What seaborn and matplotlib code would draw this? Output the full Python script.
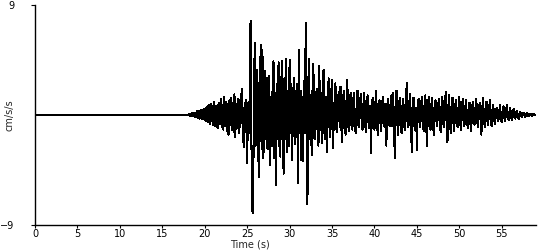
import numpy as np
import pandas as pd
import matplotlib
matplotlib.use("Agg")
import matplotlib.pyplot as plt
import seaborn as sns

# ---- data (acceleration, cm/s/s, every 0.1 s) ----
quiet_part = [0.0] * 180  # 0.0 .. 17.9 s : flat trace

active_part = [
    0.0, 0.05, -0.05, 0.1, -0.1, 0.15, -0.1, 0.2, -0.15, 0.2,            # 18
    -0.2, 0.3, -0.25, 0.35, -0.3, 0.4, -0.3, 0.45, -0.35, 0.5,           # 19
    -0.4, 0.6, -0.5, 0.7, -0.6, 0.8, -0.7, 0.9, -0.5, 0.7,               # 20
    -0.8, 1.1, -0.9, 0.7, -1.0, 0.8, -1.1, 1.0, -0.7, 1.3,               # 21
    -1.0, 0.8, -1.2, 1.5, -0.9, 1.1, -1.3, 0.9, -1.6, 1.2,               # 22
    -0.8, 1.4, -1.2, 1.0, -1.4, 1.7, -1.8, 0.9, -1.1, 1.3,               # 23
    -1.5, 1.2, -1.0, 1.6, 2.1, -1.3, -2.6, 1.0, -1.4, 1.2,               # 24
    -3.9, 1.0, -1.5, 1.8, 7.7, -2.0, -7.8, -8.0, 2.0, 5.9,               # 25
    -2.5, 1.5, 3.7, -3.0, -5.1, 2.0, 5.7, -2.8, 5.3, -3.5,               # 26
    -1.5, 3.6, -2.0, 3.0, -2.8, 2.2, 3.2, -4.1, 1.5, -2.5,               # 27
    2.5, 4.4, -3.5, 1.8, -5.7, 2.5, -2.0, 4.3, -2.5, -3.4,               # 28
    2.0, 4.4, -2.2, -4.8, 3.0, -2.0, 4.6, -3.0, 1.5, -2.5,               # 29
    4.5, -1.5, 2.5, -3.7, 1.0, 3.0, -2.4, 2.0, -1.8, 2.5,                # 30
    -5.6, 5.3, -1.5, 2.0, -3.7, 1.5, -3.8, 2.8, -1.5, 7.5,               # 31
    -2.0, -7.3, 2.5, 4.6, -2.0, 1.5, -3.3, 2.0, 4.2, -1.8,               # 32
    -2.0, 1.5, 2.1, -1.5, -2.5, 4.0, -1.2, 1.8, -2.3, 1.0,               # 33
    3.7, -1.4, -2.0, 1.5, -3.0, 1.2, 3.0, -1.0, -1.8, 1.6,               # 34
    2.9, -2.7, 1.0, -1.2, 2.6, -0.8, -1.4, 1.2, 1.9, -1.0,               # 35
    2.3, -1.0, -2.2, 1.2, 2.0, -0.9, -1.6, 1.0, 2.9, -0.8,               # 36
    -1.3, 1.0, 1.8, -0.9, -1.2, 1.2, 1.8, -1.0, -1.5, 0.9,               # 37
    2.0, -0.8, -1.0, 1.1, 1.7, -0.9, -1.2, 0.8, 1.8, -0.7,               # 38
    -1.4, 0.9, 1.6, -0.6, -1.1, 0.7, -3.1, 1.0, 1.4, -0.8,               # 39
    -1.2, 0.8, 2.0, -0.7, -1.6, 0.9, 1.2, -0.6, -1.3, 0.8,               # 40
    1.5, -0.7, -1.0, 0.9, -2.5, 0.6, 1.3, -0.8, -0.9, 1.0,               # 41
    1.6, -0.9, 1.8, -1.0, -3.5, 0.8, 2.0, -0.7, -1.6, 0.9,               # 42
    1.4, -0.8, -1.5, 0.7, 1.3, -0.9, -1.2, 0.8, 2.6, -0.7,               # 43
    -1.0, 0.9, 1.7, -0.8, -3.0, 0.7, 1.4, -0.9, -1.2, 0.6,               # 44
    -2.9, 0.8, 1.3, -0.6, -1.0, 0.9, 1.5, -0.7, -1.3, 0.8,               # 45
    1.6, -0.8, -2.5, 0.7, 1.5, -0.6, -1.2, 0.8, 1.4, -0.7,               # 46
    -1.6, 0.6, 1.2, -0.5, -0.9, 0.7, 1.3, -0.6, -1.4, 0.7,               # 47
    1.5, -0.6, -1.0, 0.8, 1.9, -0.7, -2.2, 0.6, 1.6, -0.7,               # 48
    -1.5, 0.7, 1.4, -0.6, -1.3, 0.6, 1.2, -0.5, -1.0, 0.6,               # 49
    1.5, -0.6, -1.2, 0.5, 1.3, -0.5, -0.9, 0.6, 1.2, -0.5,               # 50
    -1.1, 0.5, 1.0, -0.6, -1.3, 0.5, 1.1, -0.4, -0.8, 0.5,               # 51
    1.3, -0.5, -1.0, 0.4, 1.0, -0.4, -1.6, 0.5, 1.4, -0.4,               # 52
    -1.0, 0.4, 1.1, -0.4, -0.8, 0.4, 1.2, -0.3, -0.9, 0.4,               # 53
    0.8, -0.3, -0.7, 0.3, 0.6, -0.3, -0.5, 0.3, 0.8, -0.3,               # 54
    -0.6, 0.3, 0.7, -0.2, -0.5, 0.3, 0.8, -0.2, -0.4, 0.2,               # 55
    0.6, -0.2, -0.4, 0.2, 0.5, -0.2, -0.3, 0.2, 0.3, -0.1,               # 56
    -0.3, 0.1, 0.25, -0.1, -0.2, 0.1, 0.2, -0.1, -0.15, 0.1,             # 57
    0.15, -0.05, -0.1, 0.05, 0.1, -0.05, -0.05, 0.05, 0.05, 0.0,         # 58
    0.0,                                                                 # 59
]

accel = quiet_part + active_part
time_s = np.round(np.arange(len(accel)) * 0.1, 1)

x_ticks = [0, 5, 10, 15, 20, 25, 30, 35, 40, 45, 50, 55]
y_ticks = [-9, 9]
x_label = "Time (s)"
y_label = "cm/s/s"

df = pd.DataFrame({"t": time_s, "a": accel})

sns.set_theme(style="ticks")
plt.rcParams["font.family"] = ["DejaVu Sans"]

fig = plt.figure(figsize=(5.5, 2.5), dpi=100)
ax = fig.add_axes([35 / 550, 1 - 225 / 250, 500.7 / 550, 220 / 250])

sns.lineplot(data=df, x="t", y="a", ax=ax, color="black",
             linewidth=0.75, estimator=None, sort=False, antialiased=False)

ax.set_xlim(0, 59.0)
ax.set_ylim(-9, 9)
ax.set_xticks(x_ticks)
ax.set_yticks(y_ticks)
ax.tick_params(axis="x", length=2, pad=1, labelsize=7, width=0.8, colors="black")
ax.tick_params(axis="y", length=3, pad=12, labelsize=7, width=0.8, colors="black")
for s in ["top", "right"]:
    ax.spines[s].set_visible(False)
for s in ["left", "bottom"]:
    ax.spines[s].set_color("black")
    ax.spines[s].set_linewidth(1.0)

ax.set_xlabel(x_label, fontsize=7)
ax.set_ylabel(y_label, fontsize=7)
ax.xaxis.set_label_coords(0.43, -0.068)
ax.yaxis.set_label_coords(-0.04, 0.5)

fig.savefig("out.png", dpi=100)
